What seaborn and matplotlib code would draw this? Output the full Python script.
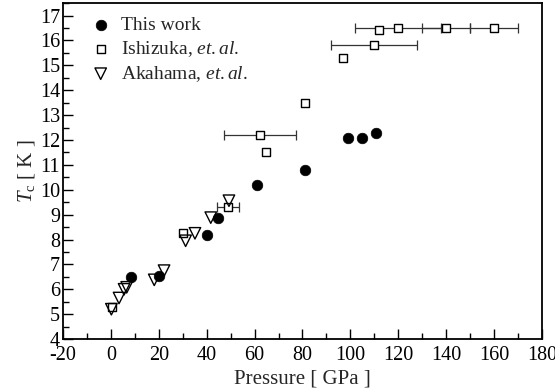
import matplotlib
matplotlib.use("Agg")
import matplotlib.pyplot as plt
import seaborn as sns
import pandas as pd
from matplotlib.ticker import MultipleLocator

sns.set_theme(style="ticks")
plt.rcParams['font.family'] = ['Liberation Serif', 'DejaVu Serif']
plt.rcParams['mathtext.fontset'] = 'custom'
plt.rcParams['mathtext.rm'] = 'Liberation Serif'
plt.rcParams['mathtext.it'] = 'Liberation Serif:italic'
plt.rcParams['axes.unicode_minus'] = False

# This work
this_p = [8.5, 20, 40.2, 44.7, 61, 81, 99, 104.7, 110.7]
this_tc = [6.48, 6.55, 8.2, 8.88, 10.2, 10.8, 12.1, 12.1, 12.27]

# Ishizuka et al.
ishi_p = [0.3, 30, 49, 62.3, 64.6, 81, 96.8, 110, 112, 120, 140, 160]
ishi_tc = [5.28, 8.25, 9.32, 12.2, 11.5, 13.5, 15.3, 15.8, 16.42, 16.52, 16.52, 16.52]
ishi_err = [0, 0, 4.5, 15, 0, 0, 0, 18, 0, 18, 10, 10]

# Akahama et al.
aka_p = [0.2, 3.4, 5.5, 6.6, 18.1, 22.2, 31.2, 35.1, 41.7, 49.3]
aka_tc = [5.2, 5.65, 6.0, 6.08, 6.38, 6.75, 7.95, 8.25, 8.88, 9.56]

fig = plt.figure(figsize=(5.55, 3.92), dpi=100)
ax = fig.add_axes([0.1135, 0.135, 0.863, 0.857])

# error bars
for p, t, e in zip(ishi_p, ishi_tc, ishi_err):
    if e > 0:
        ax.errorbar([p], [t], xerr=[e], fmt='none', ecolor='#333333',
                    elinewidth=0.9, capsize=3.5, capthick=0.9, zorder=1)

df_this = pd.DataFrame({'p': this_p, 'tc': this_tc})
df_ishi = pd.DataFrame({'p': ishi_p, 'tc': ishi_tc})
df_aka = pd.DataFrame({'p': aka_p, 'tc': aka_tc})

sns.scatterplot(data=df_this, x='p', y='tc', ax=ax, marker='o', s=58,
                color='black', edgecolor='black', linewidth=0.5,
                label='This work', zorder=3)
sns.scatterplot(data=df_ishi, x='p', y='tc', ax=ax, marker='s', s=38,
                facecolor='white', edgecolor='black', linewidth=1.0,
                label=r'Ishizuka, $\it{et.al.}$', zorder=3)
sns.scatterplot(data=df_aka, x='p', y='tc', ax=ax, marker='v', s=68,
                facecolor='none', edgecolor='black', linewidth=1.0,
                label=r'Akahama, $\it{et.al.}$', zorder=4)

ax.set_xlim(-20, 180)
ax.set_ylim(4, 17.5)
ax.xaxis.set_major_locator(MultipleLocator(20))
ax.xaxis.set_minor_locator(MultipleLocator(10))
ax.yaxis.set_major_locator(MultipleLocator(1))
ax.yaxis.set_minor_locator(MultipleLocator(0.5))
ax.tick_params(which='both', direction='in', top=False, right=False,
               labelsize=14.5, colors='black', width=1.0)
ax.tick_params(which='major', length=7)
ax.tick_params(which='minor', length=4)
ax.tick_params(axis='x', pad=5)
ax.tick_params(axis='y', pad=2)
for sp in ax.spines.values():
    sp.set_linewidth(1.3)
    sp.set_color('black')

ax.set_xlabel('Pressure [ GPa ]', fontsize=15, labelpad=3)
ax.set_ylabel(r'$T_{\rm c}$ [ K ]', fontsize=15, labelpad=2)

leg = ax.legend(loc='upper left', frameon=False, fontsize=14,
                handlelength=1.0, handletextpad=0.55, borderaxespad=0.3,
                labelspacing=0.25, bbox_to_anchor=(0.03, 1.0))

fig.savefig('out.png', dpi=100)
